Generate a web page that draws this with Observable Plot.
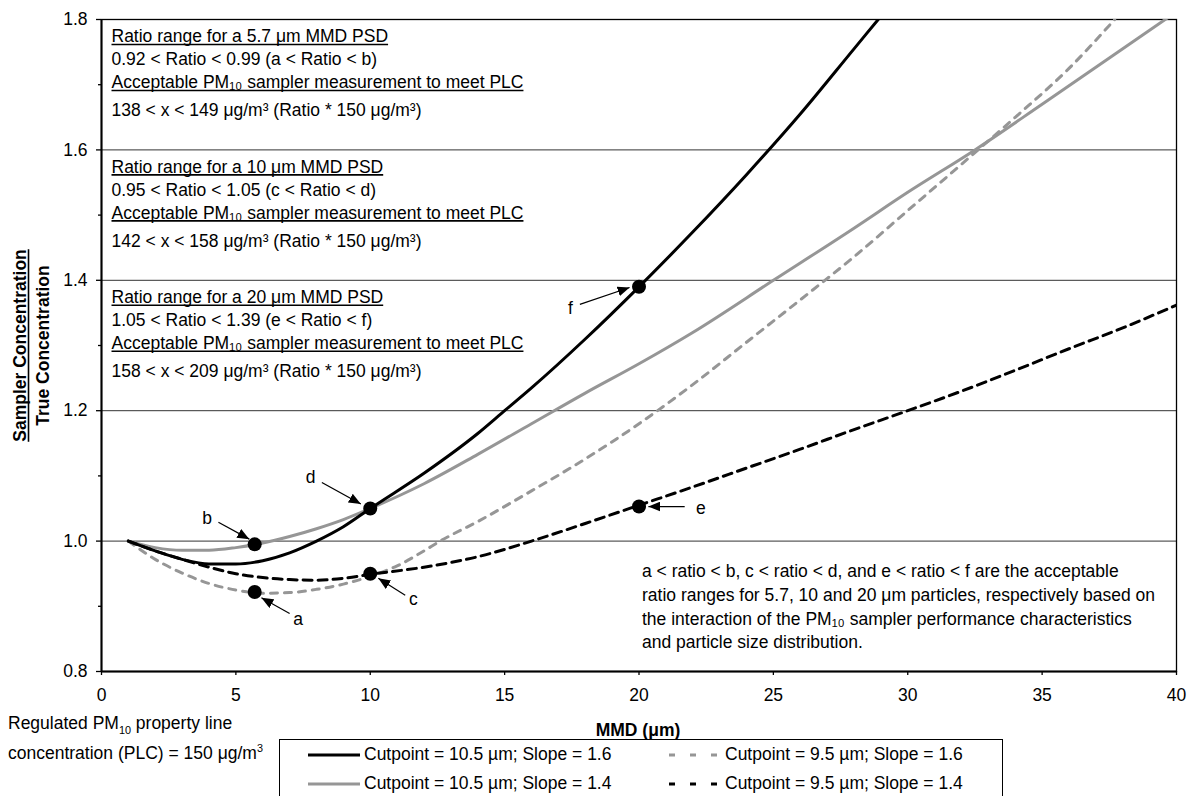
<!DOCTYPE html>
<html><head><meta charset="utf-8">
<script src="https://cdn.jsdelivr.net/npm/d3@7"></script>
<script src="https://cdn.jsdelivr.net/npm/@observablehq/plot@0.6"></script>
<style>
body{margin:0;background:#fff;font-family:'Liberation Sans',Arial,sans-serif;color:#000;}
#wrap{position:relative;width:1190px;height:796px;overflow:hidden;background:#fff;}
#wrap > svg{position:absolute;left:0;top:0;}
.note{position:absolute;left:8px;top:708px;font-size:17.5px;line-height:30px;white-space:nowrap;}
.xlabel{position:absolute;left:538px;width:200px;top:720px;text-align:center;font-size:17.5px;font-weight:bold;line-height:20px;}
#legend{position:absolute;left:279px;top:739px;width:724px;height:62px;border:1px solid #000;box-sizing:border-box;background:#fff;display:grid;grid-template-columns:361px 361px;grid-auto-rows:29px;}
.item{display:flex;align-items:center;font-size:17.5px;white-space:nowrap;}
.item svg{display:block;margin-left:28px;margin-right:4px;}
sub,sup{font-size:62%;line-height:0;}
</style></head>
<body><div id="wrap"></div>
<script>
// ---------- data ----------
const xTicks = [0, 5, 10, 15, 20, 25, 30, 35, 40];
const yTicks = [0.8, 1.0, 1.2, 1.4, 1.6, 1.8];
const yMinorTicks = [0.9, 1.1, 1.3, 1.5, 1.7];
const gridValues = [1.0, 1.2, 1.4, 1.6];

const seriesNames = [
  "Cutpoint = 10.5 µm; Slope = 1.6",
  "Cutpoint = 10.5 µm; Slope = 1.4",
  "Cutpoint = 9.5 µm; Slope = 1.6",
  "Cutpoint = 9.5 µm; Slope = 1.4"
];
const blackSolidX = [1,2,3,4,5,6,7,8,9,10,12,14,15,16,18,20,22,24,26,28,28.9];
const blackSolidY = [1.000,0.985,0.972,0.965,0.965,0.970,0.982,1.000,1.022,1.050,1.104,1.165,1.200,1.235,1.310,1.390,1.474,1.562,1.655,1.755,1.800];
const graySolidX = [1,2,3,4,5,6,7,8,9,10,12,14,16,18,20,22,25,28,30,32.5,35,38,40];
const graySolidY = [1.000,0.990,0.986,0.986,0.990,0.997,1.007,1.019,1.033,1.050,1.088,1.133,1.180,1.227,1.272,1.320,1.400,1.480,1.535,1.600,1.670,1.755,1.812];
const grayDashX = [1,2,3,4,5,6,7,8,9,10,11,12,12.6,14,16,18,20,22,24,26,28,30,32,34,36,37.7];
const grayDashY = [1.000,0.972,0.951,0.935,0.925,0.920,0.921,0.926,0.934,0.946,0.962,0.985,1.000,1.030,1.077,1.126,1.180,1.240,1.305,1.370,1.436,1.507,1.578,1.650,1.725,1.800];
const blackDashX = [1,2,3,4,5,6,7,8,9,10,12,14,16,18,20,22,24,26,28,30,32,34,36,38,40];
const blackDashY = [1.000,0.985,0.972,0.960,0.950,0.944,0.941,0.940,0.943,0.949,0.960,0.976,1.000,1.027,1.055,1.083,1.112,1.141,1.171,1.200,1.230,1.262,1.295,1.327,1.362];

const pointLetters = ["a", "b", "c", "d", "e", "f"];
const pointX = [5.7, 5.7, 10, 10, 20, 20];
const pointY = [0.922, 0.995, 0.950, 1.050, 1.053, 1.390];
const letterX = [7.32, 3.93, 11.6, 7.78, 22.3, 17.45];
const letterY = [0.880, 1.035, 0.910, 1.098, 1.050, 1.357];
const arrowFromX = [7.0, 4.35, 11.3, 8.2, 21.7, 17.8];
const arrowFromY = [0.889, 1.029, 0.917, 1.090, 1.053, 1.363];
const arrowToX = [5.95, 5.5, 10.3, 9.65, 20.35, 19.65];
const arrowToY = [0.913, 1.003, 0.943, 1.057, 1.053, 1.389];

const blockAnchorY = [1.8, 1.6, 1.4];
const blockTitles = ["Ratio range for a 5.7 μm MMD PSD", "Ratio range for a 10 μm MMD PSD", "Ratio range for a 20 μm MMD PSD"];
const blockRatios = ["0.92 < Ratio < 0.99 (a < Ratio < b)", "0.95 < Ratio < 1.05 (c < Ratio < d)", "1.05 < Ratio < 1.39 (e < Ratio < f)"];
const blockHeading = "Acceptable PM₁₀ sampler measurement to meet PLC";
const blockRanges = ["138 < x < 149 μg/m³ (Ratio * 150 μg/m³)", "142 < x < 158 μg/m³ (Ratio * 150 μg/m³)", "158 < x < 209 μg/m³ (Ratio * 150 μg/m³)"];
const noteText = "a < ratio < b, c < ratio < d, and e < ratio < f are the acceptable\nratio ranges for 5.7, 10 and 20 μm particles, respectively based on\nthe interaction of the PM₁₀ sampler performance characteristics\nand particle size distribution.";
const noteAnchor = {x: 20, y: 1.0};
const yLabelTop = "Sampler Concentration";
const yLabelBottom = "True Concentration";
const xLabel = "MMD (μm)";

// ---------- styles ----------
const seriesColor = ["#000000", "#969696", "#969696", "#000000"];
const seriesDash = [null, null, "7,7", "9,6"];
const legendDash = [null, null, "6,15", "6,15"];

// ---------- build ----------
const curves = [
  blackSolidX.map((x, i) => ({x, y: blackSolidY[i], s: 0})),
  graySolidX.map((x, i) => ({x, y: graySolidY[i], s: 1})),
  grayDashX.map((x, i) => ({x, y: grayDashY[i], s: 2})),
  blackDashX.map((x, i) => ({x, y: blackDashY[i], s: 3}))
];
const points = pointLetters.map((l, i) => ({l, x: pointX[i], y: pointY[i], lx: letterX[i], ly: letterY[i],
  x1: arrowFromX[i], y1: arrowFromY[i], x2: arrowToX[i], y2: arrowToY[i]}));
const blocks = blockAnchorY.map((y, i) => ({y, title: blockTitles[i], ratio: blockRatios[i], heading: blockHeading, range: blockRanges[i]}));

const lineMark = (s) => Plot.line(curves[s], {x: "x", y: "y", stroke: seriesColor[s], strokeWidth: 3,
  strokeDasharray: seriesDash[s] || undefined, curve: "monotone-x", clip: true});

const plot = Plot.plot({
  width: 1190, height: 796,
  marginLeft: 101, marginRight: 14, marginTop: 19, marginBottom: 125,
  style: {fontFamily: "'Liberation Sans', Arial, sans-serif", fontSize: "17.5px", color: "#000", background: "transparent", overflow: "visible"},
  x: {domain: [0, 40]},
  y: {domain: [0.8, 1.8]},
  marks: [
    Plot.ruleY(gridValues, {stroke: "#333", strokeWidth: 1}),
    Plot.frame({stroke: "#000", strokeWidth: 1.3}),
    Plot.axisX({ticks: xTicks, tickSize: 4, tickPadding: 13, label: null, strokeWidth: 1.3}),
    Plot.axisY({ticks: yTicks, tickFormat: d3.format(".1f"), tickSize: 5, tickPadding: 9, label: null, strokeWidth: 1.3}),
    Plot.axisY({ticks: yMinorTicks, tickFormat: () => "", tickSize: 3, label: null, strokeWidth: 1.3}),
    Plot.ruleX([0], {strokeWidth: 2}),
    Plot.ruleY([0.8], {strokeWidth: 2}),
    lineMark(1), lineMark(2), lineMark(3), lineMark(0),
    Plot.link(points, {x1: "x1", y1: "y1", x2: "x2", y2: "y2", stroke: "#000", strokeWidth: 1.2, markerEnd: "arrow"}),
    Plot.dot(points, {x: "x", y: "y", r: 7, fill: "#000"}),
    Plot.text(points, {x: "lx", y: "ly", text: "l"}),
    Plot.text(blocks, {x: 0, y: "y", text: "title", textAnchor: "start", dx: 10, dy: 17, ariaDescription: "underlined"}),
    Plot.text(blocks, {x: 0, y: "y", text: "ratio", textAnchor: "start", dx: 10, dy: 40}),
    Plot.text(blocks, {x: 0, y: "y", text: "heading", textAnchor: "start", dx: 10, dy: 63, ariaDescription: "underlined"}),
    Plot.text(blocks, {x: 0, y: "y", text: "range", textAnchor: "start", dx: 10, dy: 91}),
    Plot.text([noteText], {x: noteAnchor.x, y: noteAnchor.y, text: d => d, textAnchor: "start", dx: 3, dy: 64, lineHeight: 1.36}),
    Plot.text([yLabelTop], {frameAnchor: "left", textAnchor: "middle", text: d => d, rotate: -90, dx: -81, fontWeight: "bold", ariaDescription: "underlined"}),
    Plot.text([yLabelBottom], {frameAnchor: "left", textAnchor: "middle", text: d => d, rotate: -90, dx: -58, fontWeight: "bold"})
  ]
});

// filled arrowheads
plot.querySelectorAll("marker").forEach(m => {
  m.setAttribute("viewBox", "-12 -5 12 10");
  m.setAttribute("markerWidth", 12);
  m.setAttribute("markerHeight", 10);
  m.setAttribute("markerUnits", "userSpaceOnUse");
  m.setAttribute("fill", "#000");
  m.setAttribute("stroke", "none");
  const p = m.querySelector("path");
  if (p) { p.setAttribute("d", "M-12,-5L0,0L-12,5Z"); p.setAttribute("fill", "#000"); p.setAttribute("stroke", "none"); }
});

const wrap = document.getElementById("wrap");
wrap.appendChild(plot);

// underlines drawn under measured text
plot.querySelectorAll('[aria-description="underlined"] text').forEach(t => {
  const b = t.getBBox();
  if (!b.width) return;
  const ln = document.createElementNS("http://www.w3.org/2000/svg", "line");
  const yy = b.y + 0.905 * (b.height / 1.117) + 2.2;
  ln.setAttribute("x1", b.x);
  ln.setAttribute("x2", b.x + b.width);
  ln.setAttribute("y1", yy);
  ln.setAttribute("y2", yy);
  ln.setAttribute("stroke", "#000");
  ln.setAttribute("stroke-width", 1.6);
  if (t.getAttribute("transform")) ln.setAttribute("transform", t.getAttribute("transform"));
  t.parentNode.appendChild(ln);
});

// HTML parts: note, x label, legend
const note = document.createElement("div");
note.className = "note";
note.innerHTML = "Regulated PM<sub>10</sub> property line<br>concentration (PLC) = 150 μg/m<sup>3</sup>";
wrap.appendChild(note);

const xl = document.createElement("div");
xl.className = "xlabel";
xl.textContent = xLabel;
wrap.appendChild(xl);

const legend = document.createElement("div");
legend.id = "legend";
const legendOrder = [0, 2, 1, 3];
legendOrder.forEach(s => {
  const it = document.createElement("div");
  it.className = "item";
  const sw = d3.create("svg").attr("width", 52).attr("height", 10);
  sw.append("line").attr("x1", 0).attr("x2", 52).attr("y1", 5).attr("y2", 5)
    .attr("stroke", seriesColor[s]).attr("stroke-width", 3)
    .attr("stroke-dasharray", legendDash[s]);
  it.appendChild(sw.node());
  const t = document.createElement("span");
  t.textContent = seriesNames[s];
  it.appendChild(t);
  legend.appendChild(it);
});
wrap.appendChild(legend);
</script>
</body></html>
